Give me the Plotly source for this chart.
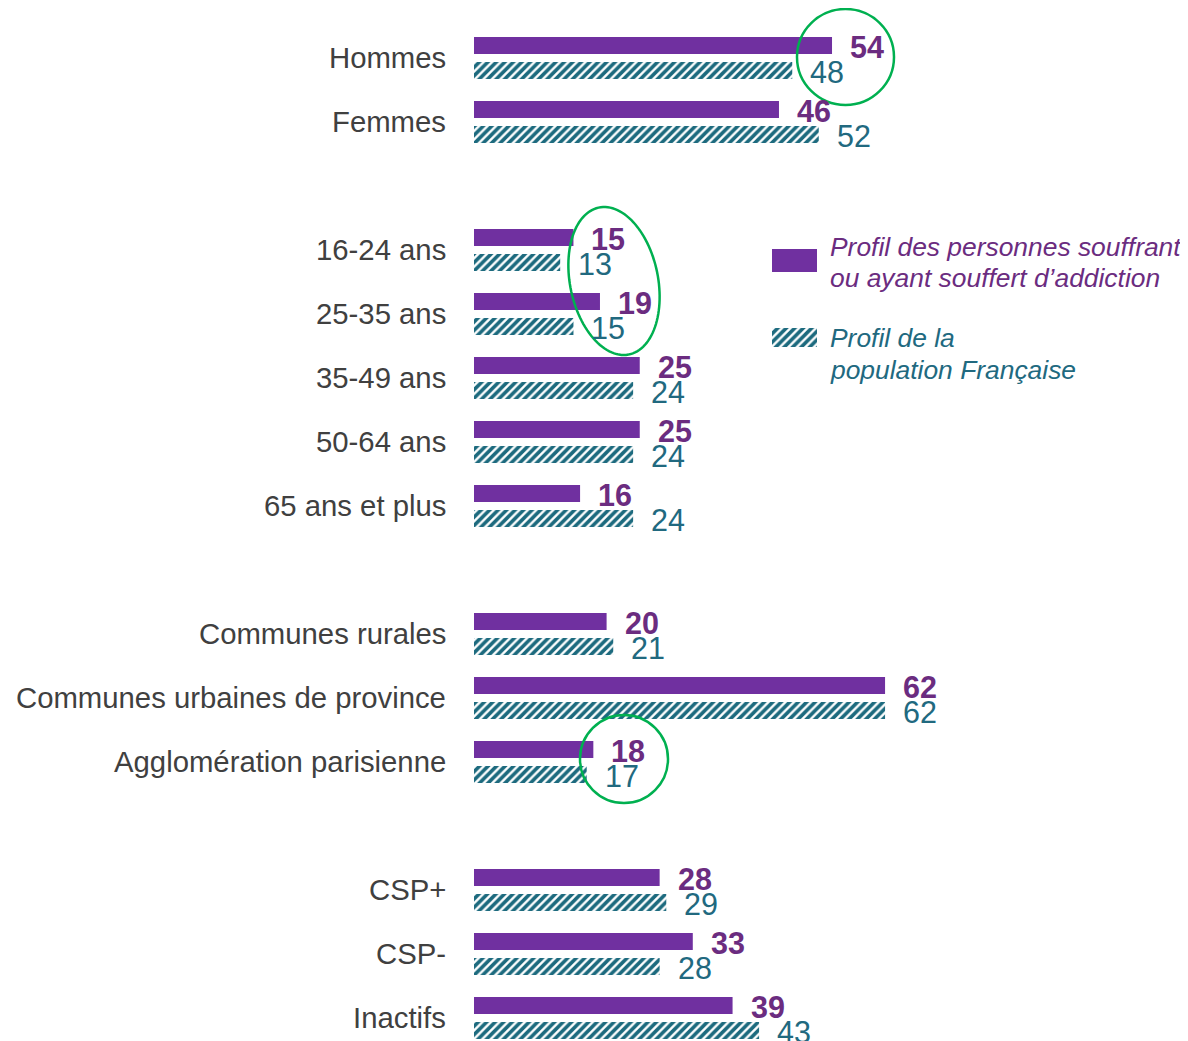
import plotly.graph_objects as go
import numpy as np

# ---------------- data ----------------
groups = [
    ["Hommes", "Femmes"],
    ["16-24 ans", "25-35 ans", "35-49 ans", "50-64 ans", "65 ans et plus"],
    ["Communes rurales", "Communes urbaines de province", "Agglomération parisienne"],
    ["CSP+", "CSP-", "Inactifs"],
]
addiction = [54, 46, 15, 19, 25, 25, 16, 20, 62, 18, 28, 33, 39]
population = [48, 52, 13, 15, 24, 24, 24, 21, 62, 17, 29, 28, 43]
series_names = ["Profil des personnes souffrant ou ayant souffert d’addiction",
                "Profil de la population Française"]

# ---------------- layout constants (screen px) ----------------
OFF = 8                       # default page body margin
W, H = 1188 - OFF, 1041 - OFF  # figure size
L = 474            # screen x of bar base
PXU = 6.63         # px per percentage point
SLOT = 64          # px per category slot
Y0 = 58            # screen y centre of first slot
PURPLE = "#7030A0"
PURPLE_TXT = "#6B2C80"
TEAL = "#1C6A7E"
TEAL_TXT = "#21697F"
GREEN = "#00B050"
GREY = "#404040"
FONT = "Liberation Sans, Arial, sans-serif"

labels, pos = [], []
s = 0
for g in groups:
    for c in g:
        labels.append(c)
        pos.append(s)
        s += 1
    s += 1

Lf = L - OFF                 # figure-coord left margin
plot_w = W - Lf
xmax = plot_w / PXU
Y0f = Y0 - OFF
y_top = -Y0f / SLOT
y_bot = (H - Y0f) / SLOT

def px2x(px):
    return (px - L) / PXU

def py2y(py):
    return (py - Y0) / SLOT

def px2paper(px):
    return (px - OFF - Lf) / plot_w

def py2paper(py):
    return 1 - (py - OFF) / H

bar_w = 17 / SLOT
pattern = dict(shape="/", fgcolor=TEAL, bgcolor="white", size=6, solidity=0.6, fgopacity=1)
fig = go.Figure()
fig.add_trace(go.Bar(
    x=addiction, y=pos, orientation="h", name=series_names[0],
    width=bar_w, offset=-21 / SLOT,
    marker=dict(color=PURPLE, line=dict(width=0)),
    showlegend=False, hoverinfo="x",
))
fig.add_trace(go.Bar(
    x=population, y=pos, orientation="h", name=series_names[1],
    width=bar_w, offset=4 / SLOT,
    marker=dict(color=TEAL, line=dict(width=0), pattern=pattern),
    showlegend=False, hoverinfo="x",
))

ann = []
for p, lab in zip(pos, labels):
    ann.append(dict(x=0, xref="paper", y=p - 0.5 / SLOT, yref="y", text=lab, showarrow=False,
                    xanchor="right", yanchor="middle", xshift=-26,
                    font=dict(family=FONT, size=29.3, color=GREY)))
for p, a, b in zip(pos, addiction, population):
    ann.append(dict(x=a, xref="x", y=p - 12.5 / SLOT + 1 / SLOT, yref="y", text=f"<b>{a}</b>",
                    showarrow=False, xanchor="left", yanchor="middle", xshift=16,
                    font=dict(family=FONT, size=30.5, color=PURPLE_TXT)))
    ann.append(dict(x=b, xref="x", y=p + 12.5 / SLOT + 1.5 / SLOT, yref="y", text=f"{b}",
                    showarrow=False, xanchor="left", yanchor="middle", xshift=16,
                    font=dict(family=FONT, size=30.5, color=TEAL_TXT)))

# custom legend text
leg_lines = [
    ("Profil des personnes souffrant", 247, PURPLE_TXT),
    ("ou ayant souffert d’addiction", 278, PURPLE_TXT),
    ("Profil de la", 338, TEAL_TXT),
    ("population Française", 370, TEAL_TXT),
]
for t, py, col in leg_lines:
    ann.append(dict(x=px2paper(828), xref="paper", y=py2paper(py), yref="paper",
                    text=f"<i>{t}</i>", showarrow=False, xanchor="left", yanchor="middle",
                    font=dict(family=FONT, size=26.4, color=col)))

# legend swatches (inset axis)
fig.add_trace(go.Bar(x=[1], y=[11.5], width=[23], orientation="h", xaxis="x2", yaxis="y2",
                     marker=dict(color=PURPLE, line=dict(width=0)), showlegend=False, hoverinfo="skip"))
fig.add_trace(go.Bar(x=[1], y=[88.5], width=[19], orientation="h", xaxis="x2", yaxis="y2",
                     marker=dict(color=TEAL, line=dict(width=0), pattern=pattern),
                     showlegend=False, hoverinfo="skip"))

# highlight ellipses
shapes = []
shapes.append(dict(type="circle", xref="x", yref="y",
                   x0=px2x(797), x1=px2x(894), y0=py2y(9), y1=py2y(105),
                   line=dict(color=GREEN, width=2.5)))
shapes.append(dict(type="circle", xref="x", yref="y",
                   x0=px2x(580), x1=px2x(668), y0=py2y(715), y1=py2y(803),
                   line=dict(color=GREEN, width=2.5)))
cx, cy, a_, b_, ang = 614, 281, 75, 44, np.deg2rad(-11.5)
t = np.linspace(0, 2 * np.pi, 120)
ex = cx + b_ * np.cos(t) * np.cos(ang) - a_ * np.sin(t) * np.sin(ang)
ey = cy + b_ * np.cos(t) * np.sin(ang) + a_ * np.sin(t) * np.cos(ang)
path = "M " + " L ".join(f"{px2x(u):.4f},{py2y(v):.4f}" for u, v in zip(ex, ey)) + " Z"
shapes.append(dict(type="path", xref="x", yref="y", path=path,
                   line=dict(color=GREEN, width=2.5)))

fig.update_layout(
    width=W, height=H,
    margin=dict(l=Lf, r=0, t=0, b=0, autoexpand=False),
    paper_bgcolor="white", plot_bgcolor="white",
    barmode="overlay",
    xaxis=dict(range=[0, xmax], visible=False, fixedrange=True),
    yaxis=dict(range=[y_bot, y_top], visible=False, fixedrange=True),
    xaxis2=dict(domain=[px2paper(772), px2paper(817)], range=[0, 1], visible=False, anchor="y2"),
    yaxis2=dict(domain=[py2paper(347), py2paper(249)], range=[98, 0], visible=False, anchor="x2"),
    annotations=ann,
    shapes=shapes,
    showlegend=False,
    font=dict(family=FONT),
)

fig.write_html("out.html")
